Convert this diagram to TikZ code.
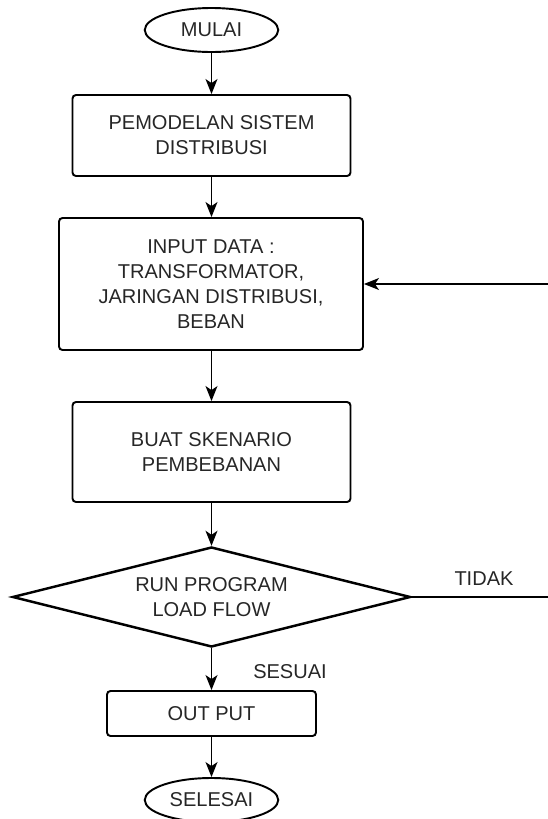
\documentclass[tikz,border=0pt]{standalone}
\usepackage{fontspec}
\setmainfont{Liberation Sans}
\usetikzlibrary{shapes.geometric,arrows.meta}
\begin{document}
\begin{tikzpicture}[x=0.2mm, y=0.2mm]
        \tikzstyle{every node}+=[inner sep=0pt, text=black!85, align=center, font=\fontsize{11.4}{14.2}\selectfont]
        \tikzstyle{terminal}=[draw, ellipse, line width=1.1pt, minimum width=2.67cm, minimum height=0.88cm]
        \tikzstyle{proses}=[draw, rectangle, rounded corners=0.7mm, line width=1.1pt]
        \tikzstyle{keputusan}=[draw, diamond, aspect=4, line width=1.4pt, minimum width=7.96cm, minimum height=2cm]
        \tikzstyle{panah}=[black, line width=0.7pt, -{Stealth[length=3mm, width=2.4mm, inset=0.8mm]}]
        \useasboundingbox (0,0) rectangle (547,-819);
        \node [terminal] (mulai) at (211.5,-30) {MULAI};
        \node [proses, minimum width=5.56cm, minimum height=1.62cm] (pemodelan) at (211.5,-135.5) {PEMODELAN SISTEM\\DISTRIBUSI};
        \node [proses, minimum width=6.08cm, minimum height=2.64cm] (input) at (211,-284) {INPUT DATA :\\TRANSFORMATOR,\\JARINGAN DISTRIBUSI,\\BEBAN};
        \node [proses, minimum width=5.56cm, minimum height=2cm] (skenario) at (211.5,-452) {BUAT SKENARIO\\PEMBEBANAN};
        \node [keputusan] (run) at (211.5,-597) {RUN PROGRAM\\LOAD FLOW};
        \node [proses, minimum width=4.18cm, minimum height=0.9cm] (output) at (211.5,-713.5) {OUT PUT};
        \node [terminal] (selesai) at (211.5,-800) {SELESAI};
        \node (sesuai) at (290,-672) {SESUAI};
        \node (tidak) at (484,-579) {TIDAK};
        \coordinate (balik) at (565,-597);
        \draw [panah] (mulai) -- (pemodelan);
        \draw [panah] (pemodelan) -- (pemodelan |- input.north);
        \draw [panah] (skenario |- input.south) -- (skenario);
        \draw [panah] (skenario) -- (run);
        \draw [panah] (run) -- (output);
        \draw [panah] (output) -- (selesai);
        \draw [panah] (run.east) -- (balik) |- (input.east);
    \end{tikzpicture}
\end{document}
